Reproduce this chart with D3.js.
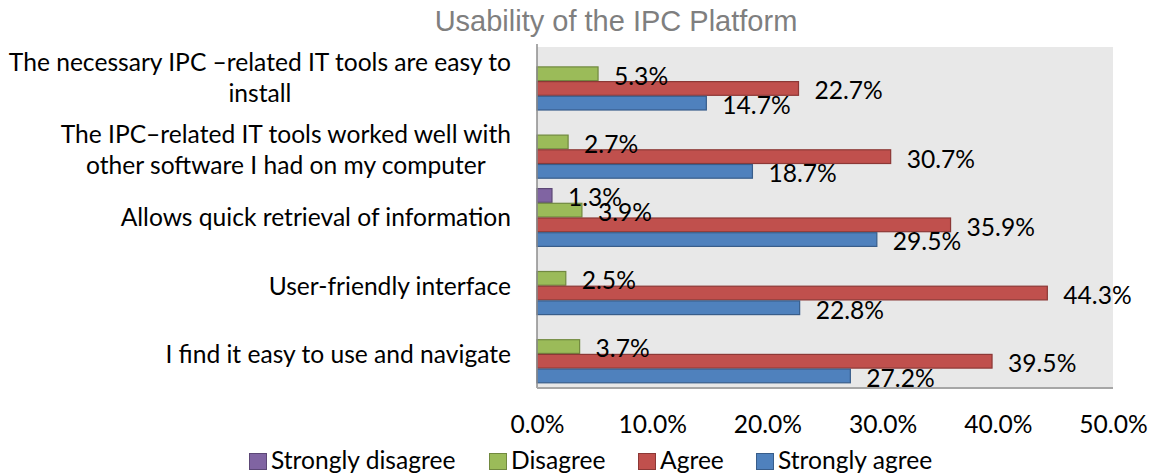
<!DOCTYPE html>
<html lang="en">
<head>
    <meta charset="UTF-8">
    <title>Usability of the IPC Platform</title>
    <script src="https://d3js.org/d3.v7.min.js"></script>
    <style>
        body { margin: 0; background: #fff; }
        text { font-family: Lato, "Open Sans", sans-serif; }
    </style>
</head>
<body>
    <div id="chart"></div>

    <script>
        // categories, top to bottom ("\n" = line break in the label)
        const categories = [
            'The necessary IPC \u2013related IT tools are easy to\ninstall',
            'The IPC\u2013related IT tools worked well with\nother software I had on my computer',
            'Allows quick retrieval of information',
            'User-friendly interface',
            'I find it easy to use and navigate'
        ];
        const seriesNames = ['Strongly disagree', 'Disagree', 'Agree', 'Strongly agree'];
        const stronglyDisagree = [0, 0, 1.3, 0, 0];
        const disagree = [5.3, 2.7, 3.9, 2.5, 3.7];
        const agree = [22.7, 30.7, 35.9, 44.3, 39.5];
        const stronglyAgree = [14.7, 18.7, 29.5, 22.8, 27.2];
        const xTicks = [0, 10, 20, 30, 40, 50];

        const seriesValues = [stronglyDisagree, disagree, agree, stronglyAgree];
        const fills = ['#8064A2', '#9BBB59', '#C0504D', '#4F81BD'];
        const strokes = ['#5C4776', '#71893F', '#8C3836', '#385D8A'];

        const W = 1153, H = 475;
        const plot = {left: 537, right: 1113, top: 47, bottom: 388};
        const fontSize = 24.6;

        const svg = d3.select('#chart')
            .append('svg')
                .attr('width', W)
                .attr('height', H);

        // title
        svg.append('text')
            .attr('x', 616)
            .attr('y', 31)
            .attr('text-anchor', 'middle')
            .style('font-family', '"Liberation Sans", Arial, sans-serif')
            .style('font-size', '29px')
            .attr('fill', '#7f7f7f')
            .text('Usability of the IPC Platform');

        const x = d3.scaleLinear()
            .domain([0, 50])
            .range([plot.left, plot.right]);

        const y = d3.scaleBand()
            .domain(d3.range(categories.length))
            .range([plot.top, plot.bottom]);

        const gap = 9.4;
        const yInner = d3.scaleBand()
            .domain(d3.range(seriesNames.length))
            .range([gap / 2, y.bandwidth() - gap / 2]);

        // plot background
        svg.append('rect')
            .attr('x', plot.left)
            .attr('y', plot.top)
            .attr('width', plot.right - plot.left)
            .attr('height', plot.bottom - plot.top)
            .attr('fill', '#e8e8e8');

        // bars
        const rows = [];
        seriesValues.forEach((vals, s) => {
            vals.forEach((v, c) => rows.push({s, c, v}));
        });

        const bars = svg.append('g');
        bars.selectAll('rect')
            .data(rows.filter(d => d.v > 0))
            .join('rect')
            .attr('x', x(0))
            .attr('y', d => y(d.c) + yInner(d.s) + 0.5)
            .attr('width', d => x(d.v) - x(0))
            .attr('height', yInner.bandwidth() - 1)
            .attr('fill', d => fills[d.s])
            .attr('stroke', d => strokes[d.s])
            .attr('stroke-width', 1.2);

        // value labels
        svg.append('g')
            .selectAll('text')
            .data(rows.filter(d => d.v > 0))
            .join('text')
            .attr('x', d => x(d.v) + 16)
            .attr('y', d => y(d.c) + yInner(d.s) + yInner.bandwidth() / 2 + 2)
            .attr('dy', '0.36em')
            .style('font-size', fontSize + 'px')
            .attr('fill', '#000')
            .text(d => d.v.toFixed(1) + '%');

        // axes lines
        svg.append('line')
            .attr('x1', plot.left).attr('x2', plot.left)
            .attr('y1', plot.top - 3).attr('y2', plot.bottom)
            .attr('stroke', '#8c8c8c')
            .attr('stroke-width', 1.5);
        svg.append('line')
            .attr('x1', plot.left).attr('x2', plot.right)
            .attr('y1', plot.bottom).attr('y2', plot.bottom)
            .attr('stroke', '#a6a6a6')
            .attr('stroke-width', 2);

        // x axis tick labels
        const xAxis = svg.append('g')
            .attr('transform', `translate(0, ${plot.bottom})`)
            .call(d3.axisBottom(x)
                .tickValues(xTicks)
                .tickSize(0)
                .tickPadding(45)
                .tickFormat(d => d.toFixed(1) + '%'));
        xAxis.select('.domain').remove();
        xAxis.selectAll('text')
            .attr('dy', 0)
            .style('font-family', 'Lato, sans-serif')
            .style('font-size', fontSize + 'px')
            .attr('fill', '#000');

        // category labels, wrapped lines centred on each other, block right-aligned
        const catG = svg.append('g');
        categories.forEach((label, i) => {
            const lines = label.split('\n');
            const lh = 31;
            const t = catG.append('text')
                .style('font-size', fontSize + 'px')
                .attr('fill', '#000');
            const cy = y(i) + y.bandwidth() / 2 - (lines.length > 1 && i === 0 ? 3 : 0);
            const y0 = cy - (lines.length - 1) * lh / 2;
            lines.forEach((ln, k) => {
                t.append('tspan')
                    .attr('y', y0 + k * lh)
                    .attr('dy', '0.36em')
                    .text(ln);
            });
            let maxW = 0;
            t.selectAll('tspan').each(function() {
                maxW = Math.max(maxW, this.getComputedTextLength());
            });
            t.attr('text-anchor', 'middle');
            t.selectAll('tspan').attr('x', 511 - maxW / 2);
        });

        // legend
        const legendX = [249, 489, 638, 756];
        const legend = svg.append('g');
        seriesNames.forEach((name, s) => {
            const g = legend.append('g')
                .attr('transform', `translate(${legendX[s]}, 453)`);
            g.append('rect')
                .attr('x', 0.5).attr('y', 0.5)
                .attr('width', 17).attr('height', 16)
                .attr('fill', fills[s])
                .attr('stroke', strokes[s]);
            g.append('text')
                .attr('x', 22)
                .attr('y', 16)
                .style('font-size', fontSize + 'px')
                .attr('fill', '#000')
                .text(name);
        });
    </script>
</body>
</html>
